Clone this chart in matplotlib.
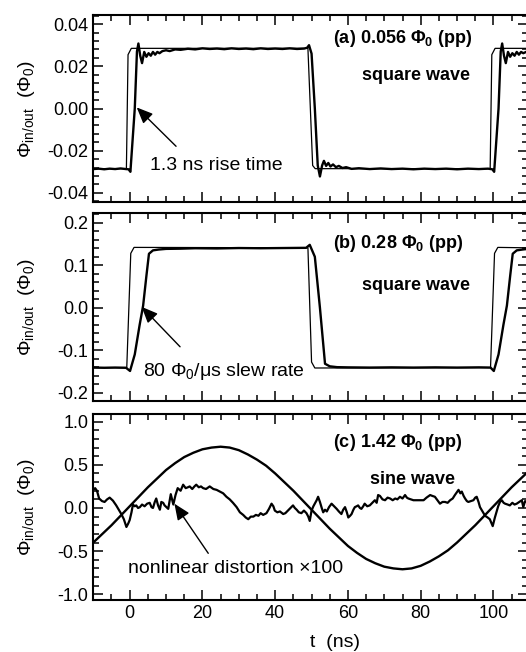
import matplotlib
matplotlib.use('Agg')
import matplotlib.pyplot as plt
from matplotlib.ticker import MultipleLocator, FormatStrFormatter

plt.rcParams['font.family'] = ['Liberation Sans', 'DejaVu Sans']
plt.rcParams['mathtext.fontset'] = 'custom'
plt.rcParams['mathtext.rm'] = 'Liberation Sans'
plt.rcParams['mathtext.it'] = 'Liberation Sans:italic'
plt.rcParams['mathtext.bf'] = 'Liberation Sans:bold'
plt.rcParams['axes.unicode_minus'] = False

# (a) small square wave: input (thin) and output (thick)
in_a_t = [-10, -0.9, -0.45, 0.45, 49.0, 50.3, 51.0, 99.1, 99.55, 100.45, 109.5]
in_a_y = [-0.0285, -0.0285, 0.0255, 0.0285, 0.0285, -0.027, -0.0285, -0.0285, 0.0255, 0.0285, 0.0285]

out_a_t = [-10, -8.5, -7, -5.5, -4, -2.5, -1, -0.3, 0.2, 1.4,
           2.0, 2.4, 2.9, 3.4, 4.0, 4.6, 5.2, 5.8, 6.4, 7.0,
           7.6, 8.2, 9.0, 10, 11, 12.5, 14, 16, 18, 20,
           22, 24, 26, 28, 30, 32, 34, 36, 38, 40,
           42, 44, 46, 48, 48.8, 49.3, 50.0, 50.9, 51.7, 52.3,
           52.9, 53.4, 54.0, 54.6, 55.2, 55.9, 56.7, 57.5, 58.5, 59.5,
           61, 63, 66, 69, 72, 75, 78, 81, 84, 87,
           90, 93, 96, 98.5, 99.7, 100.2, 101.4, 102.0, 102.4, 102.9,
           103.4, 104.0, 104.6, 105.2, 105.8, 106.4, 107.0, 107.6, 108.2, 109.5]
out_a_y = [-0.0287, -0.0285, -0.0288, -0.0285, -0.0287, -0.0284, -0.0287, -0.0288, -0.0300, 0.0,
           0.027, 0.0308, 0.025, 0.0215, 0.0268, 0.0245, 0.0262, 0.025, 0.0268, 0.0255,
           0.0268, 0.0262, 0.0272, 0.0276, 0.0272, 0.0280, 0.0278, 0.0283, 0.0280, 0.0285,
           0.0282, 0.0284, 0.0281, 0.0285, 0.0282, 0.0284, 0.0281, 0.0285, 0.0282, 0.0284,
           0.0282, 0.0285, 0.0282, 0.0284, 0.0288, 0.0300, 0.026, 0.0, -0.027, -0.0322,
           -0.027, -0.0248, -0.0272, -0.0258, -0.0275, -0.0265, -0.0278, -0.0272, -0.0282, -0.0278,
           -0.0286, -0.0283, -0.0287, -0.0284, -0.0287, -0.0285, -0.0288, -0.0285, -0.0287, -0.0285,
           -0.0288, -0.0285, -0.0287, -0.0285, -0.0288, -0.0300, 0.0, 0.027, 0.0308, 0.025,
           0.0215, 0.0268, 0.0245, 0.0262, 0.025, 0.0268, 0.0255, 0.0268, 0.0262, 0.0272]

# (b) large square wave
in_b_t = [-10, -0.8, 0.3, 1.2, 49.0, 50.0, 50.9, 99.2, 100.3, 101.2, 109.5]
in_b_y = [-0.141, -0.141, 0.128, 0.142, 0.141, -0.128, -0.142, -0.141, 0.128, 0.142, 0.141]

out_b_t = [-10, -7, -4, -1, 0.1, 1.4, 2.75, 3.7, 4.6, 5.3,
           6.4, 8, 10, 14, 18, 24, 30, 36, 42, 48.5,
           49.5, 50.9, 52.3, 53.7, 55.0, 57.0, 60, 66, 72, 78,
           84, 90, 96, 99.2, 100.1, 101.4, 102.75, 103.7, 104.6, 105.3,
           106.4, 108, 109.5]
out_b_y = [-0.141, -0.1415, -0.141, -0.1415, -0.149, -0.11, -0.04, 0.005, 0.075, 0.127,
           0.135, 0.137, 0.1385, 0.139, 0.140, 0.1395, 0.1405, 0.140, 0.1405, 0.141,
           0.148, 0.12, 0.0, -0.132, -0.138, -0.140, -0.1405, -0.141, -0.1405, -0.141,
           -0.1405, -0.141, -0.1405, -0.141, -0.149, -0.11, -0.04, 0.005, 0.075, 0.127,
           0.135, 0.137, 0.1385]

# (c) sine wave and nonlinear distortion x100
sine_t = [-10, -7.5, -5, -2.5, 0, 2.5, 5, 7.5, 10, 12.5,
          15, 17.5, 20, 22.5, 25, 27.5, 30, 32.5, 35, 37.5,
          40, 42.5, 45, 47.5, 50, 52.5, 55, 57.5, 60, 62.5,
          65, 67.5, 70, 72.5, 75, 77.5, 80, 82.5, 85, 87.5,
          90, 92.5, 95, 97.5, 100, 102.5, 105, 107.5, 110]
sine_y = [-0.40, -0.30, -0.20, -0.09, 0.02, 0.13, 0.24, 0.34, 0.44, 0.52,
          0.59, 0.64, 0.68, 0.70, 0.71, 0.70, 0.67, 0.62, 0.56, 0.49,
          0.40, 0.30, 0.20, 0.09, -0.02, -0.13, -0.24, -0.34, -0.44, -0.52,
          -0.59, -0.64, -0.68, -0.70, -0.71, -0.70, -0.67, -0.62, -0.56, -0.49,
          -0.40, -0.30, -0.20, -0.09, 0.02, 0.13, 0.24, 0.34, 0.44]

dist_t = [-10.0, -9.5, -9.0, -8.4, -7.6, -6.9, -6.2, -5.5, -5.0, -4.6,
          -3.7, -3.0, -2.3, -1.6, -0.9, -0.4, 0.0, 0.5, 0.9, 1.4,
          1.8, 2.3, 2.8, 3.4, 4.1, 4.8, 5.5, 6.0, 6.4, 6.9,
          7.3, 7.8, 8.3, 8.7, 9.2, 9.6, 10.1, 10.6, 11.3, 12.0,
          12.6, 13.2, 14.0, 14.7, 15.4, 16.0, 16.5, 17.2, 17.8, 18.3,
          19.0, 19.6, 20.2, 21.0, 22.0, 23.0, 23.9, 24.8, 25.7, 26.6,
          27.5, 28.4, 29.4, 30.3, 31.2, 31.9, 32.6, 33.3, 34.0, 34.7,
          35.4, 36.0, 36.7, 37.6, 38.3, 39.0, 39.5, 39.9, 40.6, 41.3,
          42.2, 42.8, 43.5, 44.2, 44.9, 45.4, 45.9, 46.5, 47.2, 47.9,
          48.6, 49.1, 49.5, 50.0, 50.5, 50.9, 51.4, 51.8, 52.3, 52.8,
          53.2, 53.7, 54.2, 54.8, 55.5, 56.2, 56.9, 57.5, 58.2, 58.7,
          59.2, 59.7, 60.1, 60.6, 61.0, 61.5, 61.9, 62.4, 62.8, 63.3,
          63.7, 64.2, 64.6, 65.3, 66.0, 66.7, 67.4, 67.9, 68.3, 68.8,
          69.5, 70.2, 70.9, 71.6, 72.3, 73.0, 73.6, 74.3, 75.0, 75.7,
          76.2, 76.6, 77.3, 78.0, 79.0, 80.0, 80.8, 81.6, 82.6, 83.2,
          83.9, 84.6, 85.3, 86.0, 86.7, 87.4, 88.1, 88.8, 89.4, 89.9,
          90.4, 90.9, 91.3, 91.8, 92.2, 92.7, 93.1, 93.8, 94.5, 95.0,
          95.4, 95.9, 96.3, 97.0, 97.7, 98.4, 99.0, 99.4, 99.8, 100.4,
          100.9, 101.3, 101.8, 102.3, 102.8, 103.2, 103.9, 104.5, 105.2, 105.8,
          106.4, 107.1, 107.8, 108.2, 108.7, 109.5]
dist_y = [0.21, 0.23, 0.20, 0.11, 0.08, 0.07, 0.10, 0.12, 0.10, 0.085,
          0.03, -0.02, -0.07, -0.13, -0.22, -0.18, -0.14, -0.05, 0.04, 0.02,
          0.03, 0.0, 0.01, 0.04, 0.02, 0.05, 0.06, 0.01, 0.0, 0.07,
          0.11, 0.03, -0.02, 0.07, 0.06, 0.03, 0.01, -0.01, 0.16, 0.04,
          0.15, 0.23, 0.20, 0.27, 0.23, 0.24, 0.25, 0.22, 0.25, 0.27,
          0.24, 0.25, 0.23, 0.22, 0.25, 0.22, 0.21, 0.19, 0.17, 0.13,
          0.10, 0.06, 0.01, -0.05, -0.08, -0.11, -0.13, -0.10, -0.10, -0.08,
          -0.09, -0.06, -0.08, -0.06, -0.01, 0.05, 0.02, -0.03, -0.05, -0.04,
          -0.07, -0.06, -0.03, 0.00, 0.03, 0.00, -0.02, -0.05, -0.06, -0.03,
          -0.06, -0.10, -0.15, -0.03, 0.02, 0.05, 0.09, 0.13, 0.07, 0.00,
          -0.05, -0.02, -0.04, 0.01, 0.05, 0.02, -0.01, -0.04, -0.07, -0.02,
          0.01, -0.05, -0.11, -0.09, -0.07, -0.02, 0.01, 0.02, 0.03, 0.00,
          -0.01, 0.02, 0.05, 0.02, 0.03, 0.06, 0.09, 0.06, 0.15, 0.14,
          0.10, 0.09, 0.12, 0.11, 0.09, 0.11, 0.10, 0.13, 0.11, 0.15,
          0.12, 0.11, 0.10, 0.09, 0.09, 0.09, 0.09, 0.12, 0.15, 0.14,
          0.13, 0.09, 0.05, 0.07, 0.07, 0.06, 0.09, 0.11, 0.15, 0.18,
          0.21, 0.17, 0.19, 0.14, 0.11, 0.08, 0.07, 0.08, 0.09, 0.12,
          0.13, 0.07, 0.01, -0.04, -0.09, -0.11, -0.13, -0.17, -0.21, -0.11,
          -0.04, 0.02, 0.07, 0.09, 0.06, 0.05, 0.04, 0.03, 0.06, 0.04,
          0.05, 0.07, 0.09, 0.01, 0.08, 0.06]

fig = plt.figure(figsize=(5.26, 6.52), dpi=100)
left = 93.3 / 526
width = (528 - 93.3) / 526
ax_a = fig.add_axes([left, (652 - 202) / 652, width, 187 / 652])
ax_b = fig.add_axes([left, (652 - 400.7) / 652, width, 187.7 / 652])
ax_c = fig.add_axes([left, (652 - 600) / 652, width, 186 / 652])

ax_a.plot(in_a_t, in_a_y, color='k', lw=0.9)
ax_a.plot(out_a_t, out_a_y, color='k', lw=1.7)
ax_b.plot(in_b_t, in_b_y, color='k', lw=0.9)
ax_b.plot(out_b_t, out_b_y, color='k', lw=1.7)
ax_c.plot(sine_t, sine_y, color='k', lw=1.7)
ax_c.plot(dist_t, dist_y, color='k', lw=1.6)

ylims = [(-0.0443, 0.0443), (-0.219, 0.223), (-1.066, 1.089)]
ymaj = [0.02, 0.1, 0.5]
ymin = [0.004, 0.02, 0.1]
yfmt = ['%.2f', '%.1f', '%.1f']
ylabel = r'$\Phi_{\mathrm{in/out}}$  ($\Phi_0$)'

for ax, yl, mj, mn, fmt in zip([ax_a, ax_b, ax_c], ylims, ymaj, ymin, yfmt):
    ax.set_xlim(-10, 109.5)
    ax.set_ylim(*yl)
    ax.xaxis.set_major_locator(MultipleLocator(20))
    ax.xaxis.set_minor_locator(MultipleLocator(5))
    ax.yaxis.set_major_locator(MultipleLocator(mj))
    ax.yaxis.set_minor_locator(MultipleLocator(mn))
    ax.yaxis.set_major_formatter(FormatStrFormatter(fmt))
    ax.tick_params(which='both', direction='in', top=True, right=True, labelsize=13, width=1.1)
    ax.tick_params(which='major', length=7)
    ax.tick_params(which='minor', length=4)
    for s in ax.spines.values():
        s.set_linewidth(1.5)
    ax.set_ylabel(ylabel, fontsize=14)
    ax.yaxis.set_label_coords(-0.13, 0.5)

ax_a.tick_params(labelbottom=False)
ax_b.tick_params(labelbottom=False)
ax_c.set_xlabel('t  (ns)', fontsize=14)
ax_c.xaxis.set_label_coords(0.556, -0.185)

arrow = dict(arrowstyle='-|>,head_length=0.7,head_width=0.3', color='k', lw=1.0,
             mutation_scale=14, shrinkA=0, shrinkB=0)

ax_a.text(0.551, 0.849, r'(a) 0.056 $\mathbf{\Phi_0}$ (pp)', transform=ax_a.transAxes,
          fontsize=13, fontweight='bold', ha='left', va='baseline')
ax_a.text(0.618, 0.652, 'square wave', transform=ax_a.transAxes,
          fontsize=13, fontweight='bold', ha='left', va='baseline')
ax_a.annotate('', xy=(1.94, 0.0005), xytext=(12.75, -0.0179), arrowprops=arrow)
ax_a.text(5.6, -0.0293, '1.3 ns rise time', fontsize=14, ha='left', va='baseline')

ax_b.text(0.551, 0.812, r'(b) 0.28 $\mathbf{\Phi_0}$ (pp)', transform=ax_b.transAxes,
          fontsize=13, fontweight='bold', ha='left', va='baseline')
ax_b.text(0.618, 0.590, 'square wave', transform=ax_b.transAxes,
          fontsize=13, fontweight='bold', ha='left', va='baseline')
ax_b.annotate('', xy=(3.3, 0.002), xytext=(13.85, -0.092), arrowprops=arrow)
ax_b.text(3.75, -0.16, r'80 $\Phi_0$/μs slew rate', fontsize=14, ha='left', va='baseline')

ax_c.text(0.551, 0.821, r'(c) 1.42 $\mathbf{\Phi_0}$ (pp)', transform=ax_c.transAxes,
          fontsize=13, fontweight='bold', ha='left', va='baseline')
ax_c.text(0.637, 0.624, 'sine wave', transform=ax_c.transAxes,
          fontsize=13, fontweight='bold', ha='left', va='baseline')
ax_c.annotate('', xy=(12.3, 0.05), xytext=(21.6, -0.525), arrowprops=arrow)
ax_c.text(-0.37, -0.756, 'nonlinear distortion ×100', fontsize=14, ha='left', va='baseline')

fig.savefig('out.png', dpi=100)
